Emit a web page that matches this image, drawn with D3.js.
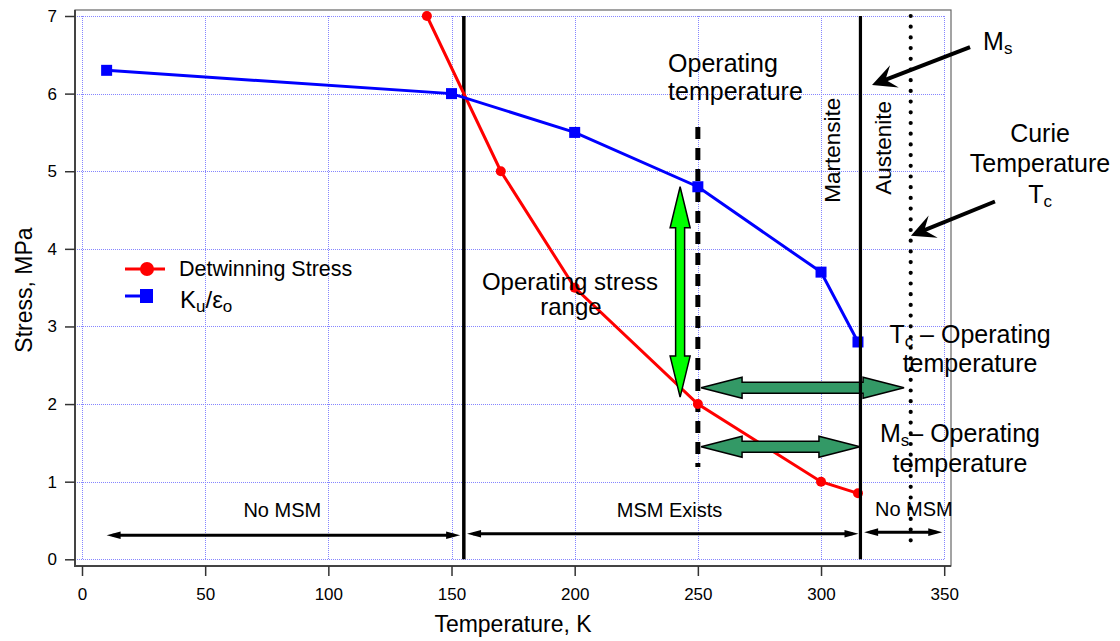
<!DOCTYPE html>
<html>
<head>
<meta charset="utf-8" />
<script src="https://d3js.org/d3.v7.min.js"></script>
<style>
  body { margin: 0; background: #fff; }
  svg { font-family: "Liberation Sans", Arial, sans-serif; }
</style>
</head>
<body>
<svg id="chart" width="1120" height="641"></svg>
<script>
// temperature (K) and stress (MPa)
var detwinT = [140, 170, 200, 250, 300, 315];
var detwinS = [7, 5, 3.5, 2, 1, 0.85];
var kuT = [10, 150, 200, 250, 300, 315];
var kuS = [6.3, 6, 5.5, 4.8, 3.7, 2.8];
var xTicks = [0, 50, 100, 150, 200, 250, 300, 350];
var yTicks = [0, 1, 2, 3, 4, 5, 6, 7];

var svg = d3.select("#chart");

var x = d3.scaleLinear().domain([0, 350]).range([82, 944.2]);
var y = d3.scaleLinear().domain([0, 7]).range([559.3, 16]);

var frame = { left: 75, top: 10, right: 951, bottom: 566 };

// grid
var grid = svg.append("g").attr("shape-rendering", "crispEdges");
grid.selectAll(".gx").data(xTicks).enter().append("line")
  .attr("x1", d => Math.round(x(d)) + 0.5).attr("x2", d => Math.round(x(d)) + 0.5)
  .attr("y1", y(7)).attr("y2", y(0))
  .attr("stroke", "#8585ff").attr("stroke-dasharray", "1,1");
grid.selectAll(".gy").data(yTicks).enter().append("line")
  .attr("x1", frame.left).attr("x2", x(350))
  .attr("y1", d => Math.round(y(d)) + 0.5).attr("y2", d => Math.round(y(d)) + 0.5)
  .attr("stroke", "#8585ff").attr("stroke-dasharray", "1,1");

// frame
svg.append("rect")
  .attr("x", frame.left).attr("y", frame.top)
  .attr("width", frame.right - frame.left).attr("height", frame.bottom - frame.top)
  .attr("fill", "none").attr("stroke", "#666").attr("stroke-width", 1.2);
svg.append("path")
  .attr("d", "M" + frame.left + "," + frame.top + "V" + frame.bottom + "H" + frame.right)
  .attr("fill", "none").attr("stroke", "#444").attr("stroke-width", 2);

// axes
var yAxis = svg.append("g")
  .attr("transform", "translate(" + frame.left + ",0)")
  .call(d3.axisLeft(y).tickValues(yTicks).tickFormat(d3.format("d"))
    .tickSize(10).tickPadding(8).tickSizeOuter(0));
var xAxis = svg.append("g")
  .attr("transform", "translate(0," + frame.bottom + ")")
  .call(d3.axisBottom(x).tickValues(xTicks).tickFormat(d3.format("d"))
    .tickSize(10).tickPadding(12).tickSizeOuter(0));
[xAxis, yAxis].forEach(function (g) {
  g.select(".domain").remove();
  g.selectAll("line").attr("stroke", "#333").attr("stroke-width", 1.5);
  g.selectAll("text").attr("font-size", 17).attr("fill", "#000")
    .attr("font-family", "Liberation Sans, Arial, sans-serif");
});

svg.append("text").attr("x", 513).attr("y", 632).attr("text-anchor", "middle")
  .attr("font-size", 23).text("Temperature, K");
svg.append("text").attr("transform", "translate(32,290) rotate(-90)")
  .attr("text-anchor", "middle").attr("font-size", 23).text("Stress, MPa");

// vertical boundary at 155 K
svg.append("line")
  .attr("x1", x(155)).attr("x2", x(155)).attr("y1", y(7)).attr("y2", y(0))
  .attr("stroke", "#000").attr("stroke-width", 3.5);

// operating temperature dashed line
svg.append("line")
  .attr("x1", x(250)).attr("x2", x(250)).attr("y1", y(5.57)).attr("y2", y(1.19))
  .attr("stroke", "#000").attr("stroke-width", 5).attr("stroke-dasharray", "12,9");

// series
var line = d3.line();
svg.append("path")
  .attr("d", line(detwinT.map((t, i) => [x(t), y(detwinS[i])])))
  .attr("fill", "none").attr("stroke", "#ff0000").attr("stroke-width", 3);
svg.selectAll(".dot").data(detwinT).enter().append("circle")
  .attr("cx", d => x(d)).attr("cy", (d, i) => y(detwinS[i])).attr("r", 5)
  .attr("fill", "#ff0000");
svg.append("path")
  .attr("d", line(kuT.map((t, i) => [x(t), y(kuS[i])])))
  .attr("fill", "none").attr("stroke", "#0000ff").attr("stroke-width", 3);
svg.selectAll(".sq").data(kuT).enter().append("rect")
  .attr("x", d => x(d) - 5.5).attr("y", (d, i) => y(kuS[i]) - 5.5)
  .attr("width", 11).attr("height", 11).attr("fill", "#0000ff");

// fat double arrow polygon
function fatArrow(t1, s1, t2, s2, sh, hh, hl) {
  var ax = x(t1), ay = y(s1), bx = x(t2), by = y(s2);
  var len = Math.hypot(bx - ax, by - ay), ux = (bx - ax) / len, uy = (by - ay) / len;
  var nx = -uy, ny = ux;
  function p(base, along, side) {
    return [base[0] + ux * along + nx * side, base[1] + uy * along + ny * side];
  }
  var a = [ax, ay], b = [bx, by];
  return [a, p(a, hl, hh), p(a, hl, sh), p(b, -hl, sh), p(b, -hl, hh), b,
    p(b, -hl, -hh), p(b, -hl, -sh), p(a, hl, -sh), p(a, hl, -hh)];
}
var fat = [
  { t1: 242.8, s1: 4.80, t2: 242.8, s2: 2.09, sh: 4.5, hh: 10, hl: 41, fill: "#00ff00" },
  { t1: 251.3, s1: 2.21, t2: 333.7, s2: 2.21, sh: 5.5, hh: 10.5, hl: 41, fill: "#339966" },
  { t1: 251.3, s1: 1.45, t2: 315.8, s2: 1.45, sh: 5.5, hh: 10.5, hl: 41, fill: "#339966" }
];
svg.selectAll(".fat").data(fat).enter().append("polygon")
  .attr("points", d => fatArrow(d.t1, d.s1, d.t2, d.s2, d.sh, d.hh, d.hl).join(" "))
  .attr("fill", d => d.fill).attr("stroke", "#000").attr("stroke-width", 1.5)
  .attr("stroke-linejoin", "miter");

// Ms boundary at 316 K
svg.append("line")
  .attr("x1", x(316)).attr("x2", x(316)).attr("y1", y(7)).attr("y2", y(0))
  .attr("stroke", "#000").attr("stroke-width", 3.2);

// Curie temperature dotted line
svg.append("line")
  .attr("x1", x(336.4)).attr("x2", x(336.4)).attr("y1", y(7)).attr("y2", y(0.11))
  .attr("stroke", "#000").attr("stroke-width", 4.2).attr("stroke-linecap", "round")
  .attr("stroke-dasharray", "0,10.7");

// thin double arrows along the bottom
var spans = [
  { t1: 10, t2: 153.5, s: 0.31 },
  { t1: 156.3, t2: 315.2, s: 0.33 },
  { t1: 317.5, t2: 349.2, s: 0.35 }
];
function head(tx, ty, dir) {
  return [[tx, ty], [tx - dir * 14, ty - 3.8], [tx - dir * 14, ty + 3.8]];
}
spans.forEach(function (d) {
  svg.append("line").attr("x1", x(d.t1) + 6).attr("x2", x(d.t2) - 6)
    .attr("y1", y(d.s)).attr("y2", y(d.s)).attr("stroke", "#000").attr("stroke-width", 3);
  svg.append("polygon").attr("points", head(x(d.t1), y(d.s), -1).join(" "));
  svg.append("polygon").attr("points", head(x(d.t2), y(d.s), 1).join(" "));
});

// pointer arrows (Ms and Tc)
var pointers = [
  { t1: 360.5, s1: 6.60, t2: 320.7, s2: 6.11 },
  { t1: 370.6, s1: 4.61, t2: 336.5, s2: 4.17 }
];
pointers.forEach(function (d) {
  var ax = x(d.t1), ay = y(d.s1), bx = x(d.t2), by = y(d.s2);
  var len = Math.hypot(bx - ax, by - ay), ux = (bx - ax) / len, uy = (by - ay) / len;
  var nx = -uy, ny = ux, L = 24, W = 12;
  svg.append("line").attr("x1", ax).attr("y1", ay)
    .attr("x2", bx - ux * 12).attr("y2", by - uy * 12)
    .attr("stroke", "#000").attr("stroke-width", 4);
  var pts = [[bx, by], [bx - ux * L + nx * W, by - uy * L + ny * W],
    [bx - ux * L * 0.6, by - uy * L * 0.6], [bx - ux * L - nx * W, by - uy * L - ny * W]];
  svg.append("polygon").attr("points", pts.join(" ")).attr("fill", "#000");
});

// annotation text
var notes = [
  { t: 81.3, s: 0.545, size: 20, text: "No MSM" },
  { t: 238.5, s: 0.545, size: 20, text: "MSM Exists" },
  { t: 337.7, s: 0.56, size: 20, text: "No MSM" },
  { t: 198.1, s: 3.47, size: 24, text: "Operating stress" },
  { t: 198.5, s: 3.15, size: 24, text: "range" },
  { t: 237.9, s: 6.28, size: 25, text: "Operating", anchor: "start" },
  { t: 237.9, s: 5.92, size: 25, text: "temperature", anchor: "start" },
  { t: 388.9, s: 5.38, size: 25, text: "Curie" },
  { t: 388.9, s: 4.99, size: 25, text: "Temperature" },
  { t: 360.5, s: 2.41, size: 25, text: "temperature" },
  { t: 356.4, s: 1.125, size: 25, text: "temperature" }
];
svg.selectAll(".note").data(notes).enter().append("text")
  .attr("x", d => x(d.t)).attr("y", d => y(d.s))
  .attr("text-anchor", d => d.anchor || "middle")
  .attr("font-size", d => d.size).text(d => d.text);

function subText(t, s, anchor, parts) {
  var el = svg.append("text").attr("x", x(t)).attr("y", y(s))
    .attr("text-anchor", anchor).attr("font-size", 25);
  parts.forEach(function (p) {
    var ts = el.append("tspan").text(p[0]);
    if (p[1]) ts.attr("font-size", 17).attr("baseline-shift", "-25%");
  });
  return el;
}
subText(365.8, 6.565, "start", [["M"], ["s", true]]);
subText(388.9, 4.59, "middle", [["T"], ["c", true]]);
subText(360.5, 2.79, "middle", [["T"], ["c", true], [" \u2013 Operating"]]);
subText(356.4, 1.51, "middle", [["M"], ["s", true], ["\u2013 Operating"]]);

// rotated phase labels
var phases = [
  { t: 307.7, s: 5.27, text: "Martensite" },
  { t: 328.4, s: 5.30, text: "Austenite" }
];
svg.selectAll(".phase").data(phases).enter().append("text")
  .attr("transform", d => "translate(" + x(d.t) + "," + y(d.s) + ") rotate(-90)")
  .attr("text-anchor", "middle").attr("font-size", 22.5).text(d => d.text);

// legend
var lg = svg.append("g");
lg.append("line").attr("x1", 125).attr("x2", 165).attr("y1", 269).attr("y2", 269)
  .attr("stroke", "#ff0000").attr("stroke-width", 3);
lg.append("circle").attr("cx", 147).attr("cy", 269).attr("r", 7).attr("fill", "#ff0000");
lg.append("text").attr("x", 179).attr("y", 276).attr("font-size", 21.5).text("Detwinning Stress");
lg.append("line").attr("x1", 125).attr("x2", 147).attr("y1", 296).attr("y2", 296)
  .attr("stroke", "#0000ff").attr("stroke-width", 3);
lg.append("rect").attr("x", 140).attr("y", 289).attr("width", 13).attr("height", 14)
  .attr("fill", "#0000ff");
var ku = lg.append("text").attr("x", 180).attr("y", 308).attr("font-size", 24);
ku.append("tspan").text("K");
ku.append("tspan").attr("font-size", 17).attr("baseline-shift", "-25%").text("u");
ku.append("tspan").text("/\u03b5");
ku.append("tspan").attr("font-size", 17).attr("baseline-shift", "-25%").text("o");
</script>
</body>
</html>
